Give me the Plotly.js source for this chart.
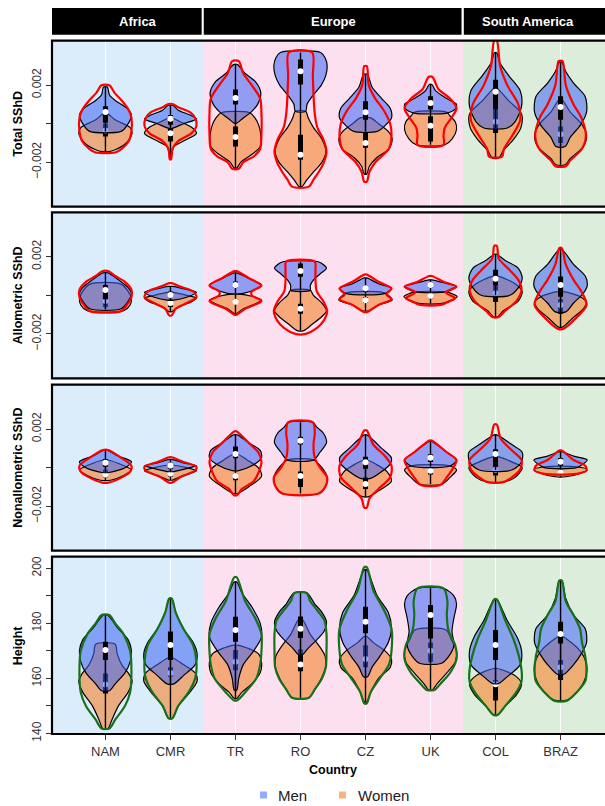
<!DOCTYPE html>
<html><head><meta charset="utf-8">
<script src="https://cdn.plot.ly/plotly-3.0.1.min.js"></script>
<style>html,body{margin:0;padding:0;overflow:hidden;background:#fff}#chart{width:615px;height:806px}</style>
</head><body><div id="chart"></div>
<script>
// ---------- data ----------
const countries = ['NAM','CMR','TR','RO','CZ','UK','COL','BRAZ'];
const xpos = [1,2,3,4,5,6,7,8];
const regions = ['Africa','Europe','South America'];
const regionSpan = [[0.178,2.5],[2.5,6.5],[6.5,8.9]];
const rowTitles = ['Total SShD','Allometric SShD','Nonallometric SShD','Height'];
const sshdUnit = 0.001; // SShD profiles below are in units of 1e-3

// violin profiles: [value, half-width] from bottom to top, one per country
const totRed = [
 [[-1.49,0.15],[-1.3,0.25],[-0.9,0.36],[-0.4,0.40],[0.3,0.40],[0.7,0.36],[1.2,0.25],[1.6,0.14],[1.99,0.06]],
 [[-1.84,0.01],[-1.3,0.03],[-0.9,0.12],[-0.5,0.32],[-0.1,0.40],[0.3,0.38],[0.6,0.30],[0.85,0.12],[1.02,0.03]],
 [[-2.34,0.05],[-2.0,0.12],[-1.7,0.28],[-1.3,0.38],[-0.5,0.40],[0.5,0.40],[1.3,0.38],[2.0,0.25],[2.6,0.12],[3.24,0.05]],
 [[-3.26,0.13],[-2.9,0.2],[-2.5,0.28],[-2.0,0.36],[-1.44,0.40],[-0.8,0.35],[-0.2,0.26],[0.5,0.22],[1.5,0.2],[2.5,0.19],[3.69,0.18]],
 [[-3.0,0.02],[-2.5,0.06],[-2.0,0.15],[-1.3,0.36],[-0.6,0.40],[0,0.38],[0.7,0.28],[1.3,0.15],[2.0,0.05],[2.98,0.02]],
 [[-1.1,0.2],[-0.6,0.2],[-0.2,0.22],[0.3,0.32],[0.8,0.40],[1.3,0.30],[1.8,0.12],[2.42,0.03]],
 [[-1.7,0.1],[-1.3,0.13],[-0.6,0.26],[0.2,0.38],[1.0,0.35],[2.0,0.18],[3.0,0.07],[4.3,0.02]],
 [[-2.2,0.08],[-1.9,0.15],[-1.3,0.33],[-0.6,0.39],[0.3,0.32],[1.0,0.2],[2.0,0.08],[3.24,0.03]]
];
const totMen = [
 [[-0.40,0.24],[-0.1,0.33],[0.45,0.40],[0.8,0.33],[1.2,0.15],[1.5,0.06],[1.9,0.03]],
 [[-0.25,0.02],[0,0.2],[0.25,0.40],[0.45,0.30],[0.7,0.12],[0.94,0.04]],
 [[0.03,0.02],[0.3,0.12],[0.6,0.24],[1.0,0.34],[1.6,0.39],[2.2,0.3],[2.6,0.15],[3.06,0.03]],
 [[0.64,0.08],[1.0,0.1],[1.5,0.2],[2.0,0.32],[2.5,0.39],[3.0,0.41],[3.4,0.38],[3.69,0.31]],
 [[-0.4,0.18],[-0.1,0.3],[0.3,0.40],[0.8,0.38],[1.3,0.25],[1.9,0.10],[2.55,0.03]],
 [[0.55,0.25],[0.75,0.38],[1.0,0.40],[1.3,0.25],[1.7,0.08],[2.03,0.02]],
 [[-0.22,0.18],[0.1,0.30],[0.9,0.40],[1.7,0.38],[2.5,0.2],[3.2,0.06],[3.67,0.02]],
 [[-1.18,0.07],[-0.7,0.15],[-0.1,0.3],[0.6,0.40],[1.4,0.38],[2.1,0.2],[2.7,0.08],[3.18,0.02]]
];
const totWomen = [
 [[-1.45,0.05],[-1.35,0.15],[-1.0,0.32],[-0.5,0.41],[-0.2,0.38],[0.2,0.15],[0.55,0.02]],
 [[-1.7,0.01],[-1.2,0.05],[-0.9,0.2],[-0.5,0.40],[-0.2,0.33],[0.1,0.15],[0.3,0.02]],
 [[-2.3,0.02],[-2.0,0.08],[-1.6,0.25],[-1.2,0.38],[-0.6,0.39],[-0.1,0.36],[0.3,0.3],[0.57,0.22]],
 [[-3.26,0.02],[-2.9,0.1],[-2.5,0.2],[-2.0,0.33],[-1.44,0.39],[-0.8,0.33],[-0.2,0.2],[0.3,0.12],[0.64,0.08]],
 [[-2.6,0.02],[-2.2,0.06],[-1.8,0.16],[-1.3,0.36],[-0.8,0.41],[-0.4,0.35],[0,0.2],[0.3,0.08]],
 [[-1.09,0.22],[-0.8,0.33],[-0.3,0.40],[0.1,0.38],[0.4,0.3],[0.59,0.25]],
 [[-1.78,0.05],[-1.4,0.12],[-0.8,0.28],[-0.2,0.39],[0.5,0.40],[1.2,0.2],[1.85,0.02]],
 [[-2.13,0.07],[-1.8,0.15],[-1.2,0.35],[-0.6,0.40],[0,0.32],[0.6,0.15],[1.25,0.02]]
];
const alloRed = [
 [[-0.82,0.24],[-0.5,0.33],[-0.1,0.40],[0.3,0.40],[0.7,0.3],[1.0,0.15],[1.25,0.05]],
 [[-1.04,0.02],[-0.7,0.08],[-0.4,0.25],[-0.1,0.40],[0.2,0.35],[0.45,0.15],[0.63,0.02]],
 [[-1.0,0.02],[-0.7,0.15],[-0.3,0.40],[0,0.25],[0.2,0.25],[0.5,0.40],[0.9,0.2],[1.25,0.02]],
 [[-2.0,0.08],[-1.7,0.25],[-1.3,0.36],[-0.8,0.41],[-0.3,0.35],[0.2,0.25],[0.8,0.23],[1.3,0.23],[1.74,0.22]],
 [[-0.86,0.03],[-0.5,0.2],[-0.2,0.40],[0.05,0.32],[0.35,0.40],[0.7,0.2],[1.07,0.02]],
 [[-0.5,0.15],[-0.3,0.3],[-0.15,0.38],[0.15,0.23],[0.45,0.40],[0.7,0.2],[1.0,0.02]],
 [[-1.12,0.05],[-0.8,0.15],[-0.3,0.32],[0.3,0.40],[0.8,0.35],[1.3,0.22],[1.9,0.05],[2.56,0.02]],
 [[-1.74,0.04],[-1.3,0.2],[-0.5,0.40],[0.2,0.32],[0.8,0.2],[1.6,0.08],[2.44,0.02]]
];
const alloMen = [
 [[-0.7,0.24],[-0.3,0.35],[0.1,0.40],[0.4,0.35],[0.8,0.2],[1.16,0.04]],
 [[-0.25,0.05],[-0.1,0.25],[0.15,0.40],[0.3,0.25],[0.46,0.03]],
 [[0.1,0.12],[0.3,0.30],[0.55,0.40],[0.8,0.25],[1.16,0.02]],
 [[0.26,0.15],[0.5,0.15],[0.8,0.2],[1.1,0.3],[1.4,0.40],[1.6,0.35],[1.74,0.27]],
 [[0.1,0.3],[0.37,0.40],[0.6,0.2],[0.9,0.02]],
 [[0.19,0.25],[0.45,0.40],[0.65,0.2],[0.8,0.02]],
 [[0,0.22],[0.4,0.35],[0.9,0.41],[1.4,0.35],[1.8,0.15],[2.12,0.02]],
 [[-0.86,0.08],[-0.4,0.2],[0.1,0.35],[0.5,0.41],[1.0,0.38],[1.6,0.2],[2.39,0.02]]
];
const alloWomen = [
 [[-0.8,0.28],[-0.5,0.38],[-0.2,0.40],[0.2,0.35],[0.58,0.24]],
 [[-0.85,0.02],[-0.6,0.12],[-0.35,0.32],[-0.15,0.40],[0,0.25],[0.15,0.03]],
 [[-0.95,0.02],[-0.7,0.12],[-0.45,0.3],[-0.25,0.40],[-0.05,0.25],[0.05,0.1]],
 [[-1.83,0.05],[-1.5,0.18],[-1.1,0.33],[-0.8,0.40],[-0.4,0.33],[0,0.2],[0.26,0.15]],
 [[-0.82,0.03],[-0.5,0.2],[-0.25,0.41],[0,0.35],[0.16,0.25]],
 [[-0.42,0.18],[-0.25,0.32],[-0.07,0.41],[0.16,0.25]],
 [[-1.12,0.03],[-0.8,0.12],[-0.3,0.35],[0.2,0.41],[0.6,0.3],[0.98,0.05]],
 [[-1.65,0.03],[-1.2,0.18],[-0.7,0.35],[-0.4,0.40],[-0.1,0.32],[0.19,0.05]]
];
const nonRed = [
 [[-0.77,0.05],[-0.5,0.25],[-0.2,0.38],[0.1,0.40],[0.5,0.25],[0.92,0.04]],
 [[-0.78,0.02],[-0.5,0.15],[-0.15,0.38],[0.05,0.40],[0.3,0.2],[0.54,0.02]],
 [[-1.43,0.02],[-1.1,0.1],[-0.7,0.28],[-0.2,0.36],[0.3,0.40],[0.8,0.35],[1.3,0.2],[1.88,0.02]],
 [[-1.34,0.28],[-1.0,0.38],[-0.5,0.41],[0,0.3],[0.5,0.22],[1.2,0.2],[1.8,0.22],[2.35,0.19]],
 [[-2.07,0.02],[-1.6,0.06],[-1.1,0.2],[-0.5,0.38],[0.1,0.40],[0.6,0.30],[1.2,0.12],[1.93,0.02]],
 [[-0.9,0.15],[-0.5,0.25],[0,0.35],[0.4,0.40],[0.8,0.25],[1.41,0.02]],
 [[-0.75,0.12],[-0.5,0.25],[-0.1,0.38],[0.4,0.40],[0.9,0.25],[1.5,0.08],[2.23,0.02]],
 [[-0.32,0.25],[-0.15,0.40],[0.1,0.38],[0.4,0.2],[0.89,0.02]]
];
const nonMen = [
 [[-0.25,0.05],[0,0.3],[0.3,0.40],[0.6,0.2],[0.89,0.03]],
 [[-0.2,0.05],[0,0.3],[0.1,0.40],[0.25,0.2],[0.43,0.02]],
 [[-0.15,0.05],[0.1,0.25],[0.5,0.40],[0.9,0.38],[1.3,0.2],[1.7,0.03]],
 [[0.4,0.2],[0.8,0.3],[1.3,0.40],[1.8,0.35],[2.1,0.25],[2.35,0.19]],
 [[-0.55,0.08],[-0.2,0.25],[0.2,0.38],[0.5,0.40],[1.0,0.25],[1.7,0.02]],
 [[0.09,0.3],[0.4,0.40],[0.8,0.25],[1.36,0.02]],
 [[-0.12,0.25],[0.3,0.40],[0.8,0.41],[1.2,0.25],[1.7,0.02]],
 [[0,0.25],[0.2,0.35],[0.4,0.41],[0.6,0.2],[0.83,0.02]]
];
const nonWomen = [
 [[-0.65,0.08],[-0.4,0.28],[-0.12,0.40],[0.15,0.25],[0.4,0.03]],
 [[-0.64,0.03],[-0.4,0.2],[-0.16,0.40],[0,0.25],[0.14,0.03]],
 [[-1.34,0.03],[-1.0,0.2],[-0.45,0.40],[0,0.35],[0.4,0.18],[0.71,0.03]],
 [[-1.34,0.28],[-1.0,0.38],[-0.5,0.41],[0,0.33],[0.4,0.2]],
 [[-1.5,0.05],[-1.2,0.2],[-0.7,0.40],[-0.2,0.33],[0.2,0.15],[0.4,0.03]],
 [[-0.85,0.18],[-0.5,0.3],[-0.12,0.40],[0.09,0.3]],
 [[-0.75,0.12],[-0.5,0.3],[0,0.41],[0.3,0.25],[0.57,0.03]],
 [[-0.47,0.08],[-0.3,0.3],[-0.1,0.41],[0.05,0.25]]
];
const htGreen = [
 [[141.8,0.06],[145,0.15],[150,0.3],[155,0.38],[162,0.40],[170,0.38],[176,0.28],[180,0.15],[183,0.06]],
 [[145.5,0.03],[150,0.12],[155,0.28],[160,0.38],[166,0.40],[172,0.35],[178,0.2],[184,0.08],[189,0.02]],
 [[152.1,0.03],[155,0.15],[160,0.32],[165,0.38],[170,0.40],[176,0.40],[182,0.3],[188,0.15],[196.7,0.02]],
 [[153,0.13],[156,0.22],[160,0.33],[164,0.39],[170,0.40],[176,0.40],[181,0.37],[185,0.25],[188,0.15],[191,0.095]],
 [[150.9,0.02],[155,0.08],[160,0.22],[165,0.36],[170,0.40],[178,0.40],[185,0.28],[192,0.12],[200.4,0.02]],
 [[155.8,0.06],[158,0.15],[162,0.3],[167,0.40],[172,0.38],[177,0.28],[183,0.25],[188,0.26],[192.7,0.2]],
 [[146.7,0.03],[150,0.15],[155,0.32],[159,0.40],[163,0.40],[168,0.36],[174,0.28],[181,0.15],[188.7,0.02]],
 [[151.9,0.1],[155,0.25],[159,0.38],[163,0.40],[168,0.38],[173,0.33],[178,0.3],[183,0.2],[188,0.08],[195.5,0.02]]
];
const htMen = [
 [[155.5,0.06],[158,0.15],[162,0.3],[166,0.38],[170,0.40],[174,0.35],[178,0.2],[183,0.03]],
 [[158,0.05],[161,0.2],[165,0.38],[169,0.41],[173,0.35],[178,0.2],[184,0.08],[189,0.02]],
 [[155.8,0.02],[160,0.05],[165,0.12],[170,0.28],[175,0.40],[180,0.38],[186,0.25],[191,0.1],[195,0.02]],
 [[168.6,0.03],[171,0.12],[174,0.25],[177,0.36],[180.5,0.40],[184,0.33],[187,0.22],[191,0.1]],
 [[160.6,0.03],[164,0.1],[168,0.22],[173,0.35],[178,0.40],[184,0.35],[190,0.18],[199.4,0.02]],
 [[165.5,0.17],[168,0.28],[172,0.36],[177,0.33],[182,0.36],[187,0.40],[190,0.36],[192.7,0.2]],
 [[158.2,0.05],[161,0.2],[165,0.38],[170,0.40],[175,0.33],[181,0.18],[188.7,0.02]],
 [[161.5,0.05],[165,0.2],[169,0.32],[173,0.40],[178,0.38],[183,0.2],[189,0.08],[195.5,0.02]]
];
const htWomen = [
 [[141.8,0.04],[145,0.1],[150,0.2],[155,0.35],[159,0.41],[162,0.35],[165,0.25],[169,0.18],[172.4,0.15]],
 [[145.5,0.03],[150,0.12],[155,0.3],[159,0.41],[162,0.38],[165,0.2],[167.5,0.03]],
 [[152.7,0.02],[155,0.1],[158,0.25],[162,0.38],[166,0.40],[169,0.35],[172,0.05]],
 [[153,0.13],[156,0.22],[160,0.32],[164,0.385],[168,0.38],[172,0.28],[176,0.15],[181.3,0.03]],
 [[151.5,0.02],[155,0.08],[160,0.2],[164,0.38],[167,0.40],[170,0.3],[173,0.12],[175.2,0.02]],
 [[155.8,0.03],[158,0.1],[162,0.25],[166,0.38],[170,0.40],[174,0.32],[177.6,0.24]],
 [[146.7,0.03],[150,0.15],[154,0.32],[158,0.40],[161,0.3],[163.6,0.03]],
 [[152.1,0.1],[155,0.25],[160,0.38],[165,0.40],[170,0.3],[175.2,0.03]]
];
// box statistics [q1, median, q3] per country
const totMenBox   = [[0.05,0.6,0.9],[-0.05,0.26,0.45],[0.99,1.33,1.77],[2.03,2.72,3.32],[0.21,0.59,1.16],[0.73,1.07,1.42],[0.73,1.66,2.28],[0.21,0.87,1.42]];
const totWomenBox = [[-0.66,-0.35,0.0],[-0.92,-0.5,-0.23],[-1.18,-0.69,-0.14],[-1.87,-1.61,-0.57],[-1.25,-1.0,-0.48],[-0.92,-0.1,0.38],[-0.48,0.1,0.73],[-1.0,-0.55,-0.14]];
const alloMenBox   = [[-0.2,0.28,0.54],[-0.1,0.02,0.2],[0.4,0.54,0.72],[0.96,1.26,1.65],[0.2,0.37,0.5],[0.4,0.54,0.65],[0.54,0.86,1.33],[-0.07,0.54,0.98]];
const alloWomenBox = [[-0.6,-0.3,0.0],[-0.6,-0.4,-0.2],[-0.45,-0.33,-0.2],[-0.96,-0.70,-0.44],[-0.4,-0.25,-0.1],[-0.15,-0.02,0.1],[-0.35,0.1,0.54],[-0.95,-0.5,-0.2]];
const nonMenBox   = [[0.05,0.26,0.45],[-0.05,0.12,0.25],[0.49,0.71,1.1],[1.2,1.39,1.6],[-0.05,0.28,0.57],[0.3,0.52,0.7],[0.05,0.71,0.95],[0.1,0.31,0.5]];
const nonWomenBox = [[-0.5,-0.35,-0.1],[-0.45,-0.3,-0.15],[-0.65,-0.43,-0.3],[-1.0,-0.43,-0.2],[-1.1,-0.85,-0.5],[-0.35,-0.16,0.0],[-0.4,-0.1,0.2],[-0.35,-0.25,-0.1]];
const htMenBox   = [[166.7,170.3,173.3],[166.7,172.1,177],[173.3,177.6,182.4],[174.7,178.0,182.5],[176.4,180.6,186],[174.5,183,186.7],[166.7,172.1,177.6],[172.7,176.1,180.6]];
const htWomenBox = [[154.5,157.8,161.8],[160.6,162,164],[163,166,170.3],[162.6,165,170.5],[164,167,172],[166,170,173],[152,157.9,159.4],[159.4,164,166.7]];

// ---------- drawing ----------
const menFill = 'rgba(60,100,245,0.55)';
const womenFill = 'rgba(245,140,60,0.65)';
const rowsDef = [
 {men: totMen, women: totWomen, all: totRed, mb: totMenBox, wb: totWomenBox, k: sshdUnit, out:'#ff0000', ya:'y'},
 {men: alloMen, women: alloWomen, all: alloRed, mb: alloMenBox, wb: alloWomenBox, k: sshdUnit, out:'#ff0000', ya:'y2'},
 {men: nonMen, women: nonWomen, all: nonRed, mb: nonMenBox, wb: nonWomenBox, k: sshdUnit, out:'#ff0000', ya:'y3'},
 {men: htMen, women: htWomen, all: htGreen, mb: htMenBox, wb: htWomenBox, k: 1, out:'#17701a', ya:'y4'}
];

function violin(profs, k, ya, fillcolor, lineColor, lw, filled){
  const x=[], y=[];
  profs.forEach((p,i)=>{
    const c = xpos[i];
    p.forEach(([v,w])=>{x.push(c+w); y.push(v*k);});
    for(let j=p.length-1;j>=0;j--){x.push(c-p[j][1]); y.push(p[j][0]*k);}
    x.push(c+p[0][1]); y.push(p[0][0]*k);
    x.push(null); y.push(null);
  });
  return {type:'scatter', mode:'lines', x, y, xaxis:'x', yaxis:ya,
    fill: filled ? 'toself' : 'none', fillcolor: fillcolor,
    line:{color:lineColor, width:lw, shape:'spline', smoothing:0.8},
    hoverinfo:'skip', showlegend:false};
}
function boxTraces(profs, stats, k, ya){
  const wx=[], wy=[], bx=[], by=[], mx=[], my=[];
  profs.forEach((p,i)=>{
    const c = xpos[i];
    wx.push(c,c,null); wy.push(p[0][0]*k, p[p.length-1][0]*k, null);
    bx.push(c,c,null); by.push(stats[i][0]*k, stats[i][2]*k, null);
    mx.push(c); my.push(stats[i][1]*k);
  });
  return [
    {type:'scatter', mode:'lines', x:wx, y:wy, yaxis:ya, line:{color:'#000', width:1.4}, hoverinfo:'skip', showlegend:false},
    {type:'scatter', mode:'lines', x:bx, y:by, yaxis:ya, line:{color:'#000', width:5}, hoverinfo:'skip', showlegend:false},
    {type:'scatter', mode:'markers', x:mx, y:my, yaxis:ya, marker:{color:'#fff', size:6, line:{width:0}}, hoverinfo:'skip', showlegend:false}
  ];
}

const traces = [];
rowsDef.forEach(r=>{
  traces.push(violin(r.women, r.k, r.ya, womenFill, '#000', 1.2, true));
  traces.push(...boxTraces(r.women, r.wb, r.k, r.ya));
  traces.push(violin(r.men, r.k, r.ya, menFill, '#000', 1.2, true));
  traces.push(...boxTraces(r.men, r.mb, r.k, r.ya));
  traces.push(violin(r.all, r.k, r.ya, 'rgba(0,0,0,0)', r.out, 2.2, false));
});

// layout geometry (pixels -> paper)
const H = 806, T = 40, B = 72, PH = H - T - B;
const py = p => (H - B - p) / PH;
const dom = (top, bot) => [py(bot), py(top)];
const domains = [dom(40.7,206.7), dom(212.3,378.3), dom(384.7,550.7), dom(556.7,734)];
const px = p => (p - 52) / 562;

const font = 'Liberation Sans, Arial, sans-serif';
const tickFont = {family:font, size:12, color:'#333'};
function yax(i){
  const sh = i < 3;
  return {
    domain: domains[i], anchor:'x',
    range: sh ? [-0.0043, 0.0043] : [139.8, 204.2],
    tickvals: sh ? [-0.002, 0, 0.002] : [140,150,160,170,180,190,200],
    ticktext: sh ? ['\u22120.002','','0.002'] : ['140','','160','','180','','200'],
    tickangle: -90, ticks:'outside', ticklen:5, tickcolor:'#333', tickwidth:1,
    showgrid:false, zeroline:false, showline:false, tickfont: tickFont, fixedrange:true
  };
}

const bgCols = ['#dbecfb','#fde0ef','#ddeddb'];
const shapes = [];
domains.forEach((d,i)=>{
  const yr = (i===0 ? 'y' : 'y'+(i+1)) + ' domain';
  regionSpan.forEach((s,j)=>{
    shapes.push({type:'rect', xref:'x', yref:yr, x0:s[0], x1:s[1], y0:0, y1:1, fillcolor:bgCols[j], line:{width:0}, layer:'below'});
  });
  shapes.push({type:'rect', xref:'paper', yref:yr, x0:0, x1:1.002, y0:0, y1:1, fillcolor:'rgba(0,0,0,0)', line:{color:'#000', width:2.2}, layer:'above'});
});
const stripX = [[0.178,2.48],[2.512,6.477],[6.512,8.95]];
stripX.forEach(s=>{
  shapes.push({type:'rect', xref:'x', yref:'paper', x0:s[0], x1:s[1], y0:py(34.7), y1:py(8), fillcolor:'#000', line:{width:0}});
});
// legend keys
shapes.push({type:'rect', xref:'paper', yref:'paper', x0:px(260), x1:px(267), y0:py(798.5), y1:py(791.5), fillcolor:menFill, line:{width:0}});
shapes.push({type:'rect', xref:'paper', yref:'paper', x0:px(339), x1:px(346), y0:py(798.5), y1:py(791.5), fillcolor:womenFill, line:{width:0}});

const annotations = [];
regions.forEach((r,j)=>{
  annotations.push({text:r, xref:'x', yref:'paper', x:[1.5,4.5,7.5][j], y:py(21.5), showarrow:false, xanchor:'center', yanchor:'middle',
    font:{family:font, size:13, color:'#fff', weight:'bold'}});
});
rowTitles.forEach((t,i)=>{
  annotations.push({text:t, xref:'paper', yref:(i===0?'y':'y'+(i+1))+' domain', x:px(18), y:0.5, textangle:-90, showarrow:false,
    xanchor:'center', yanchor:'middle', font:{family:font, size:12.5, color:'#000', weight:'bold'}});
});
annotations.push({text:'Country', xref:'paper', yref:'paper', x:0.5, y:py(770), showarrow:false, xanchor:'center', yanchor:'middle',
  font:{family:font, size:12.5, color:'#000', weight:'bold'}});
annotations.push({text:'Men', xref:'paper', yref:'paper', x:px(276), y:py(795), showarrow:false, xanchor:'left', yanchor:'middle',
  font:{family:font, size:15, color:'#222'}});
annotations.push({text:'Women', xref:'paper', yref:'paper', x:px(356), y:py(795), showarrow:false, xanchor:'left', yanchor:'middle',
  font:{family:font, size:15, color:'#222'}});

const layout = {
  width:615, height:H, margin:{l:52, r:1, t:T, b:B},
  paper_bgcolor:'#fff', plot_bgcolor:'#fff', showlegend:false,
  xaxis:{range:[0.178,8.822], anchor:'y4', tickvals:xpos, ticktext:countries, showgrid:true, gridcolor:'rgba(255,255,255,0.9)', gridwidth:1,
    ticks:'outside', ticklen:5, tickcolor:'#333', zeroline:false, showline:false, tickfont:{family:font, size:13, color:'#333'}, fixedrange:true},
  yaxis: yax(0), yaxis2: yax(1), yaxis3: yax(2), yaxis4: yax(3),
  shapes, annotations
};
Plotly.newPlot('chart', traces, layout, {staticPlot:true, displayModeBar:false});
</script></body></html>
